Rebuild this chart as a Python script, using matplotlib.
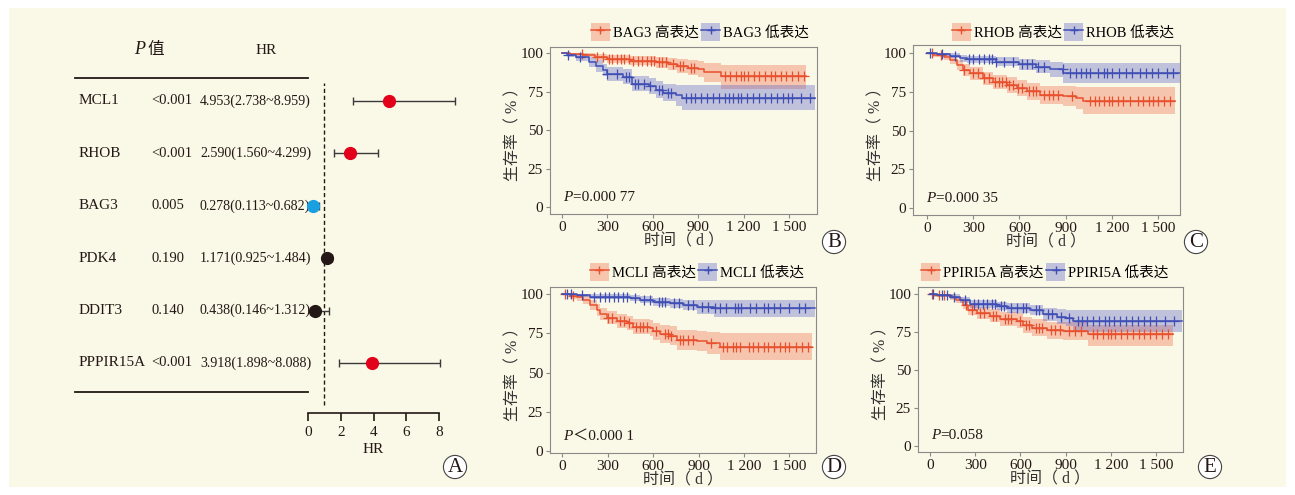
import numpy as np
import matplotlib
matplotlib.use("Agg")
import matplotlib.pyplot as plt
from matplotlib.patches import Rectangle, Patch
from matplotlib.lines import Line2D
from matplotlib.transforms import blended_transform_factory

plt.rcParams['font.family'] = ['Liberation Serif', 'Noto Sans CJK SC']
plt.rcParams['axes.unicode_minus'] = False

# ---- forest plot data (panel A) ----
genes = ["MCL1", "RHOB", "BAG3", "PDK4", "DDIT3", "PPPIR15A"]
p_text = ["<0.001", "<0.001", "0.005", "0.190", "0.140", "<0.001"]
p_vals = [0.0005, 0.0005, 0.005, 0.190, 0.140, 0.0005]
hr = [4.953, 2.590, 0.278, 1.171, 0.438, 3.918]
hr_lo = [2.738, 1.560, 0.113, 0.925, 0.146, 1.898]
hr_hi = [8.959, 4.299, 0.682, 1.484, 1.312, 8.088]
hr_text = ["4.953(2.738~8.959)", "2.590(1.560~4.299)", "0.278(0.113~0.682)",
           "1.171(0.925~1.484)", "0.438(0.146~1.312)", "3.918(1.898~8.088)"]
hr_ticks = [0, 2, 4, 6, 8]

# ---- KM data: step times, survival (%), CI lower/upper, end time, censor times ----
b_hi_t = [0, 50, 140, 220, 300, 450, 620, 700, 760, 830, 900, 940, 1050]
b_hi_s = [100, 99.5, 99, 97.5, 96, 95, 94, 93, 91.5, 90.5, 90, 87.5, 85]
b_hi_lo = [100, 98.5, 97.5, 95.5, 93.5, 92, 90.5, 89, 87, 85.5, 84.5, 81.5, 77]
b_hi_hi = [100, 100, 100, 99.5, 98.5, 98, 97.5, 97, 96, 95.5, 95, 93.5, 92]
b_hi_end = 1610
b_hi_cens = [130, 230, 270, 310, 330, 360, 390, 410, 440, 470, 500, 530, 560, 590, 610, 640,
             660, 690, 730, 780, 800, 850, 870, 1080, 1110, 1150, 1180, 1200, 1230, 1270,
             1300, 1340, 1380, 1410, 1450, 1480, 1520, 1560, 1600]
b_lo_t = [0, 30, 95, 180, 225, 270, 300, 400, 465, 575, 620, 665, 750, 790]
b_lo_s = [100, 99, 97.5, 94, 91.5, 89, 86.5, 84.5, 80, 78.5, 76, 74, 72.5, 71]
b_lo_lo = [100, 97.5, 95, 91, 88, 85, 82, 80, 75.5, 73.5, 71, 69, 65.5, 63]
b_lo_hi = [100, 100, 99.5, 97.5, 95.5, 93, 91, 89.5, 85, 84, 82, 80, 79, 79]
b_lo_end = 1670
b_lo_cens = [40, 120, 300, 360, 420, 440, 480, 500, 540, 580, 640, 660, 700, 720, 820, 850,
             880, 920, 960, 1000, 1040, 1080, 1100, 1130, 1160, 1180, 1220, 1260, 1300, 1340,
             1380, 1420, 1460, 1490, 1520, 1580, 1640]

c_hi_t = [0, 40, 110, 150, 195, 235, 280, 365, 430, 520, 585, 650, 735, 880, 970, 1015]
c_hi_s = [100, 99, 97.8, 95.7, 92.4, 89.2, 87, 83.8, 81.6, 79.5, 77.8, 75.6, 73, 72.4, 71.3, 69.1]
c_hi_lo = [100, 97.5, 95.5, 92.8, 89, 85.5, 83, 79.5, 77, 74.5, 72.5, 70, 67, 66, 64, 61]
c_hi_hi = [100, 100, 100, 98.5, 96, 93, 91, 88, 86, 84.5, 83, 81, 79, 79, 78.5, 78]
c_hi_end = 1610
c_hi_cens = [30, 90, 240, 300, 330, 370, 400, 440, 470, 490, 510, 530, 560, 590, 620, 660,
             690, 710, 760, 790, 820, 850, 940, 1060, 1090, 1120, 1150, 1180, 1200, 1240,
             1270, 1320, 1370, 1400, 1440, 1470, 1500, 1540, 1580]
c_lo_t = [0, 65, 150, 215, 260, 450, 600, 710, 800, 885]
c_lo_s = [100, 99.6, 98.5, 96.8, 96.1, 94.6, 92.9, 91.4, 89.6, 87.5]
c_lo_lo = [100, 98.5, 97, 94.5, 93.5, 91.5, 89, 87, 84.5, 81]
c_lo_hi = [100, 100, 100, 99, 98.5, 97.5, 96.5, 95.5, 94.5, 93.5]
c_lo_end = 1650
c_lo_cens = [20, 100, 180, 270, 300, 340, 370, 400, 420, 450, 500, 560, 620, 650, 680, 720,
             760, 880, 930, 970, 1000, 1030, 1060, 1110, 1150, 1170, 1200, 1250, 1290, 1330,
             1380, 1420, 1460, 1500, 1560, 1600]

d_hi_t = [0, 50, 95, 140, 183, 227, 250, 293, 360, 425, 470, 580, 600, 645, 710, 755, 890, 955, 1040]
d_hi_s = [100, 98.9, 98, 96.2, 93, 89.8, 87, 85, 82.8, 81.3, 79.2, 78.6, 76.4, 74.7, 73.5, 70.7, 70, 68.6, 66.5]
d_hi_lo = [100, 97, 95.8, 93.5, 90, 86.3, 83.2, 81, 78.5, 76.8, 74.5, 73.5, 71, 69, 67.5, 64.5, 63.5, 61.5, 58]
d_hi_hi = [100, 100, 100, 99, 96.5, 93.5, 91, 89, 87, 85.8, 84, 83.5, 81.6, 80.3, 79.5, 77, 76.5, 75.8, 75.5]
d_hi_end = 1650
d_hi_cens = [20, 70, 300, 330, 380, 410, 440, 490, 510, 530, 560, 620, 680, 700, 720, 780,
             800, 830, 860, 980, 1060, 1090, 1130, 1150, 1170, 1230, 1260, 1290, 1330, 1360,
             1400, 1440, 1470, 1500, 1540, 1580, 1620]
d_lo_t = [0, 95, 180, 445, 515, 600, 710, 800, 890, 1000]
d_lo_s = [100, 99.3, 98.3, 97.7, 96.2, 95.1, 94, 93, 91.5, 90.9]
d_lo_lo = [100, 98, 96.8, 95.8, 94, 92.5, 91, 89.7, 87.5, 85.6]
d_lo_hi = [100, 100, 99.8, 99.5, 98.5, 97.8, 97, 96.5, 96.2, 96.2]
d_lo_end = 1670
d_lo_cens = [30, 60, 130, 210, 250, 280, 310, 340, 370, 400, 430, 480, 540, 580, 640, 660,
             680, 740, 770, 830, 860, 920, 960, 1010, 1040, 1080, 1140, 1160, 1180, 1240,
             1280, 1330, 1360, 1400, 1440, 1500, 1560, 1600]

e_hi_t = [0, 25, 130, 175, 220, 255, 310, 400, 465, 575, 620, 675, 775, 885, 1050]
e_hi_s = [100, 99.3, 98.5, 96.3, 93, 89.6, 87.4, 85.9, 83.7, 82.4, 79.7, 78, 76.4, 75.8, 73.8]
e_hi_lo = [100, 98, 96.5, 94, 90, 86, 83.5, 81.5, 79, 77.5, 74.5, 72.5, 70.5, 69.5, 66]
e_hi_hi = [100, 100, 100, 98.5, 96, 93, 91.5, 90, 88.5, 87.5, 85, 83.5, 82, 81.5, 80]
e_hi_end = 1610
e_hi_cens = [10, 60, 90, 240, 280, 330, 360, 420, 440, 500, 520, 540, 600, 640, 660, 700,
             720, 740, 800, 830, 860, 920, 960, 1000, 1080, 1110, 1150, 1180, 1200, 1230,
             1270, 1310, 1350, 1390, 1420, 1460, 1500, 1540, 1580]
e_lo_t = [0, 45, 135, 200, 265, 445, 510, 665, 750, 840, 905, 950]
e_lo_s = [100, 99.5, 98.5, 96.3, 93.4, 92.5, 90.7, 89.6, 86.8, 85.2, 84.1, 82.4]
e_lo_lo = [100, 98.5, 97, 94.3, 91, 89.8, 87.5, 86, 82.5, 80.5, 79, 75.3]
e_lo_hi = [100, 100, 100, 98.5, 96, 95.2, 94, 93.2, 91.2, 90.2, 89.6, 89.6]
e_lo_end = 1670
e_lo_cens = [20, 80, 110, 160, 230, 290, 320, 350, 380, 410, 430, 470, 490, 540, 580, 620,
             640, 700, 720, 780, 810, 870, 920, 980, 1010, 1040, 1080, 1120, 1160, 1190,
             1220, 1260, 1300, 1340, 1380, 1420, 1460, 1500, 1560, 1620]

x_ticks = [0, 300, 600, 900, 1200, 1500]
x_tick_labels = ["0", "300", "600", "900", "1 200", "1 500"]
y_ticks = [0, 25, 50, 75, 100]

W, H = 1295, 495
RED_LINE, RED_FILL = "#E8502E", "#F07A5A"
BLUE_LINE, BLUE_FILL = "#3F4FB5", "#6B70C8"
BG = "#FAF8E6"
TXT = "#231815"

fig = plt.figure(figsize=(W / 100, H / 100), dpi=100, facecolor="white")
fig.patches.append(Rectangle((9 / W, 8 / H), (1286 - 9) / W, (487 - 8) / H,
                             transform=fig.transFigure, facecolor=BG, edgecolor="none", zorder=-10))


def fx(px):
    return px / W


def fy(py):
    return 1 - py / H


def circle_label(x, y, s):
    fig.text(fx(x), fy(y), s, ha="center", va="center", fontsize=15, color=TXT,
             bbox=dict(boxstyle="circle,pad=0.1", fc="white", ec="#444444", lw=0.8))


# ---------------- panel A: forest plot ----------------
row_px = [101, 153, 206, 258, 310, 363]
n = len(genes)
rows = np.arange(n, 0, -1)
step_px = (row_px[-1] - row_px[0]) / (n - 1)
ax_top, ax_bot = 70, 413
ytop = rows[0] + (row_px[0] - ax_top) / step_px
ybot = rows[-1] - (ax_bot - row_px[-1]) / step_px
axA = fig.add_axes([fx(308), fy(ax_bot), fx(439 - 308), (ax_bot - ax_top) / H])
axA.set_facecolor("none")
axA.set_xlim(0, 8)
axA.set_ylim(ybot, ytop)
for sp in ["top", "right", "left"]:
    axA.spines[sp].set_visible(False)
axA.spines["bottom"].set_color(TXT)
axA.spines["bottom"].set_linewidth(1.2)
axA.set_yticks([])
axA.set_xticks(hr_ticks)
axA.tick_params(axis="x", length=6, width=1.2, colors=TXT, labelsize=11, pad=3)
axA.set_xlabel("HR", fontsize=11, color=TXT, labelpad=3)
axA.plot([1, 1], [rows[-1] - 0.8, rows[0] + 0.35], ls=(0, (3, 2)), color=TXT, lw=1.0, clip_on=False)

for r, h, lo, hi, p in zip(rows, hr, hr_lo, hr_hi, p_vals):
    if p < 0.05 and h > 1:
        c = "#E3001B"
    elif p < 0.05:
        c = "#1A9FE0"
    else:
        c = TXT
    axA.errorbar(h, r, xerr=[[h - lo], [hi - h]], fmt="none", ecolor="#3a3a3a",
                 elinewidth=1.0, capsize=3, capthick=1.0, clip_on=False)
    axA.plot(h, r, "o", color=c, markersize=8.5, clip_on=False, zorder=5)

tr = blended_transform_factory(fig.transFigure, axA.transData)
for r, g, pt, ht in zip(rows, genes, p_text, hr_text):
    axA.text(fx(79), r, g, transform=tr, ha="left", va="center", fontsize=11, color=TXT)
    axA.text(fx(151), r, pt, transform=tr, ha="left", va="center", fontsize=10.5, color=TXT)
    axA.text(fx(200), r, ht, transform=tr, ha="left", va="center", fontsize=10.1, color=TXT)

fig.text(fx(134), fy(50), "P", ha="left", va="center", fontsize=13, style="italic", color=TXT)
fig.text(fx(147), fy(50), "值", ha="left", va="center", fontsize=12, color=TXT)
fig.text(fx(266), fy(50), "HR", ha="center", va="center", fontsize=11, color=TXT)
fig.add_artist(Line2D([fx(75), fx(308)], [fy(78), fy(78)], color=TXT, lw=1.3))
fig.add_artist(Line2D([fx(75), fx(308)], [fy(392), fy(392)], color=TXT, lw=1.3))
circle_label(455, 467, "A")


# ---------------- KM panels ----------------
def draw_group(ax, t, s, lo, hi, end, cens, lc, fc):
    tt = list(t) + [end]
    ax.fill_between(tt, list(lo) + [lo[-1]], list(hi) + [hi[-1]], step="post",
                    color=fc, alpha=0.4, lw=0)
    ax.step(tt, list(s) + [s[-1]], where="post", color=lc, lw=1.1)
    idx = np.searchsorted(t, cens, side="right") - 1
    ax.plot(cens, np.array(s)[idx], "+", color=lc, markersize=6.5, mew=0.9, ls="none")


def km_panel(box, xlim, ylim, hi_grp, lo_grp, gene, ptxt, leg_xy, letter_xy, letter):
    l, r, t, b = box
    ax = fig.add_axes([fx(l), fy(b), fx(r - l), (b - t) / H])
    ax.set_facecolor("none")
    draw_group(ax, *hi_grp, RED_LINE, RED_FILL)
    draw_group(ax, *lo_grp, BLUE_LINE, BLUE_FILL)
    ax.set_xlim(*xlim)
    ax.set_ylim(*ylim)
    ax.set_xticks(x_ticks)
    ax.set_xticklabels(x_tick_labels)
    ax.set_yticks(y_ticks)
    for sp in ax.spines.values():
        sp.set_color("#8a8a8a")
        sp.set_linewidth(0.8)
    ax.tick_params(length=3, width=0.8, colors="#8a8a8a", labelcolor=TXT, labelsize=11, pad=2)
    ax.set_xlabel("时间（ d ）", fontsize=11.5, color="#333333", labelpad=0)
    ax.set_ylabel("生存率（ % ）", fontsize=11.5, color="#333333", labelpad=-1)
    pt = ax.text(0.05, 0.1, "P", transform=ax.transAxes, style="italic", fontsize=11,
                 ha="left", va="center", color=TXT)
    ax.annotate(ptxt, xy=(1, 0.5), xycoords=pt, ha="left", va="center", fontsize=11, color=TXT)
    handles = [(Patch(facecolor=RED_FILL, alpha=0.4, edgecolor="none"),
                Line2D([], [], color=RED_LINE, marker="+", lw=1.1, markersize=6)),
               (Patch(facecolor=BLUE_FILL, alpha=0.4, edgecolor="none"),
                Line2D([], [], color=BLUE_LINE, marker="+", lw=1.1, markersize=6))]
    fig.legend(handles, [gene + " 高表达", gene + " 低表达"], loc="center",
               bbox_to_anchor=(fx(leg_xy[0]), fy(leg_xy[1])), ncol=2, frameon=False,
               fontsize=10.5, handlelength=1.3, handleheight=1.5, handletextpad=0.2,
               columnspacing=0.2, borderpad=0)
    circle_label(letter_xy[0], letter_xy[1], letter)
    return ax


km_panel((550, 817, 47, 214), (-80, 1685), (-4.5, 104),
         (b_hi_t, b_hi_s, b_hi_lo, b_hi_hi, b_hi_end, b_hi_cens),
         (b_lo_t, b_lo_s, b_lo_lo, b_lo_hi, b_lo_end, b_lo_cens),
         "BAG3", "=0.000 77", (700, 32), (834, 242), "B")
km_panel((913, 1180, 45, 215), (-91, 1643), (-4.7, 105.4),
         (c_hi_t, c_hi_s, c_hi_lo, c_hi_hi, c_hi_end, c_hi_cens),
         (c_lo_t, c_lo_s, c_lo_lo, c_lo_hi, c_lo_end, c_lo_cens),
         "RHOB", "=0.000 35", (1063, 32), (1196, 242), "C")
km_panel((550, 816, 287, 453), (-81, 1675), (-1.3, 104.5),
         (d_hi_t, d_hi_s, d_hi_lo, d_hi_hi, d_hi_end, d_hi_cens),
         (d_lo_t, d_lo_s, d_lo_lo, d_lo_hi, d_lo_end, d_lo_cens),
         "MCLI", "＜0.000 1", (697, 272), (834, 467), "D")
km_panel((918, 1183, 287, 452), (-80, 1679), (-4.2, 104.8),
         (e_hi_t, e_hi_s, e_hi_lo, e_hi_hi, e_hi_end, e_hi_cens),
         (e_lo_t, e_lo_s, e_lo_lo, e_lo_hi, e_lo_end, e_lo_cens),
         "PPIRI5A", "=0.058", (1045, 272), (1210, 467), "E")

fig.savefig("out.png", dpi=100, facecolor="white")
